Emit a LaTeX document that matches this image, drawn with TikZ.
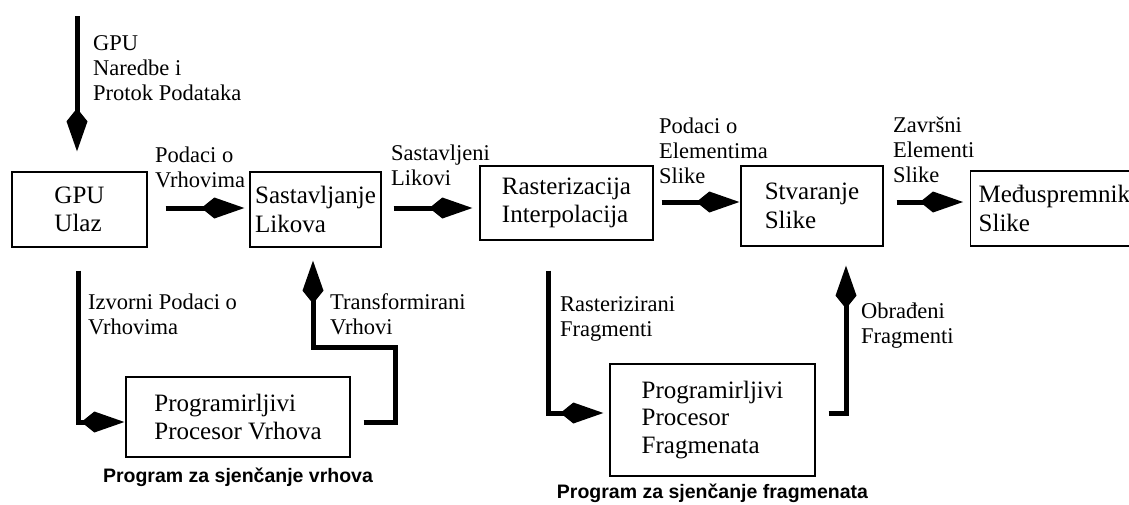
\documentclass[tikz,border=0pt]{standalone}
\usepackage{fontspec}
\setmainfont{Liberation Serif}
\newfontfamily\capfont{Liberation Sans}
\usetikzlibrary{arrows.meta}

\begin{document}
\begin{tikzpicture}[x=1pt,y=-1pt,
  stage/.style={draw, line width=1.3pt, inner sep=0pt, align=left,
    font=\fontsize{25}{28.5}\selectfont},
  lbl/.style={anchor=north west, inner sep=0pt, align=left,
    font=\fontsize{22.5}{25}\selectfont},
  caption/.style={anchor=base, inner sep=0pt,
    font=\capfont\bfseries\fontsize{19.5}{22}\selectfont},
  flow/.style={line width=5pt, line join=miter,
    -{Kite[length=43pt,width=21pt,inset=13pt]}},
]
\useasboundingbox (0,0) rectangle (1129,504);
\fill[white] (0,0) rectangle (1129,504);
\clip (0,0) rectangle (1129,504);

% pipeline stages
\node[stage, minimum width=135pt, minimum height=75pt] (gpu) at (79.5,209.5) {GPU\\Ulaz};
\node[stage, minimum width=131pt, minimum height=75pt] (sast) at (315.5,209.5) {Sastavljanje\\Likova};
\node[stage, minimum width=173pt, minimum height=74pt] (rast) at (566.5,203) {Rasterizacija\\Interpolacija};
\node[stage, minimum width=142pt, minimum height=80pt] (stv) at (812,206) {Stvaranje\\Slike};
\node[stage, anchor=west, minimum width=175pt, text width=159pt, inner xsep=8pt,
      minimum height=75pt] (ms) at (970,208.5) {Me\dj uspremnik\\Slike};
\node[stage, minimum width=224pt, minimum height=80pt] (pv) at (238,417) {Programirljivi\\Procesor Vrhova};
\node[stage, minimum width=205pt, minimum height=112pt,
      font=\fontsize{25}{27.5}\selectfont] (pf) at (712.5,420) {Programirljivi\\Procesor\\Fragmenata};

% shader captions
\node[caption] (vcap) at ([yshift=-25pt]pv.south) {Program za sjenčanje vrhova};
\node[caption] (fcap) at ([yshift=-22pt]pf.south) {Program za sjenčanje fragmenata};

% connector labels (north edge = first baseline - 18pt)
\newcommand{\fl}{\rule{0pt}{18pt}}
\node[lbl] (l1) at (93,32.5) {\fl GPU\\Naredbe i\\Protok Podataka};
\node[lbl] (l2) at (155,144.5) {\fl Podaci o\\Vrhovima};
\node[lbl] (l3) at (391,142.5) {\fl Sastavljeni\\Likovi};
\node[lbl] (l4) at (659,115) {\fl Podaci o\\Elementima\\Slike};
\node[lbl] (l5) at (893,114.7) {\fl Završni\\Elementi\\Slike};
\node[lbl] (l6) at (88,291.5) {\fl Izvorni Podaci o\\Vrhovima};
\node[lbl] (l7) at (330,291.5) {\fl Transformirani\\Vrhovi};
\node[lbl] (l8) at (560,293.7) {\fl Rasterizirani\\Fragmenti};
\node[lbl] (l9) at (861,300.3) {\fl Obrađeni\\Fragmenti};

% data flow
\coordinate (src) at (77,16);
\draw[flow, shorten >=20pt] (src) -- (src |- gpu.north);
\draw[flow, shorten <=18pt, shorten >=5pt] ([yshift=1.5pt]gpu.east) -- ([yshift=1.5pt]gpu.east -| sast.west);
\draw[flow, shorten <=12pt, shorten >=7pt] ([yshift=1.5pt]sast.east) -- ([yshift=1.5pt]sast.east -| rast.west);
\draw[flow, shorten <=8pt, shorten >=1pt] ([yshift=1pt]rast.east) -- ([yshift=1pt]rast.east -| stv.west);
\draw[flow, shorten <=13pt, shorten >=7pt] ([yshift=4pt]stv.east) -- ([yshift=4pt]stv.east -| ms.west);

% vertex shader loop
\coordinate (vturn) at (395,347);
\draw[flow] ([xshift=-1.5pt,yshift=-23pt]gpu.south) |- ([xshift=-1pt,yshift=-5pt]pv.west);
\draw[flow] ([xshift=13pt,yshift=-5pt]pv.east) -| (vturn) -| ([xshift=-2.5pt,yshift=-13pt]sast.south);

% fragment shader loop
\draw[flow] ([xshift=-18.5pt,yshift=-30pt]rast.south) |- ([xshift=-6pt,yshift=7pt]pf.west);
\draw[flow] ([xshift=13pt,yshift=7pt]pf.east) -| ([xshift=34pt,yshift=-19pt]stv.south);
\end{tikzpicture}
\end{document}
